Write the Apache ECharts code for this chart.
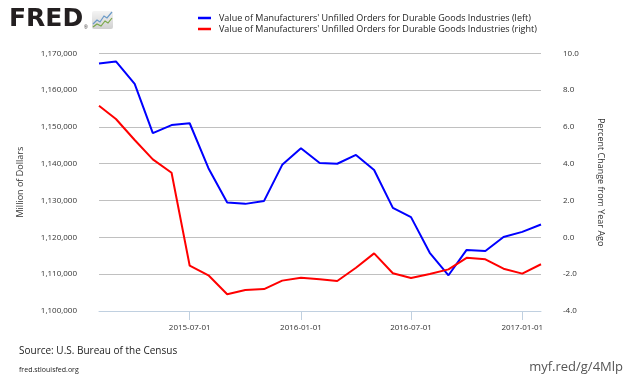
<!DOCTYPE html>
<html><head><meta charset="utf-8">
<script src="https://cdn.jsdelivr.net/npm/echarts@6/dist/echarts.min.js"></script>
<style>html,body{margin:0;padding:0;background:#fff}#c{width:630px;height:378px}</style>
</head><body><div id="c"></div>
<script>
var dates = ['2015-02-01','2015-03-01','2015-04-01','2015-05-01','2015-06-01','2015-07-01','2015-08-01','2015-09-01','2015-10-01','2015-11-01','2015-12-01','2016-01-01','2016-02-01','2016-03-01','2016-04-01','2016-05-01','2016-06-01','2016-07-01','2016-08-01','2016-09-01','2016-10-01','2016-11-01','2016-12-01','2017-01-01','2017-02-01'];
var unfilledOrders = [1167200,1167800,1161700,1148300,1150500,1151000,1138800,1129500,1129100,1129900,1139700,1144200,1140200,1140000,1142400,1138300,1128000,1125500,1115800,1109700,1116600,1116300,1120100,1121500,1123500];
var pctChange = [7.15,6.43,5.29,4.24,3.51,-1.54,-2.06,-3.09,-2.86,-2.81,-2.35,-2.19,-2.28,-2.37,-1.65,-0.87,-1.95,-2.21,-1.99,-1.74,-1.11,-1.19,-1.70,-1.97,-1.46];
var xTickLabels = ['2015-07-01','2016-01-01','2016-07-01','2017-01-01'];
var leftTicks = {min:1100000, max:1170000, interval:10000};
var rightTicks = {min:-4, max:10, interval:2};
var seriesNames = ["Value of Manufacturers' Unfilled Orders for Durable Goods Industries (left)","Value of Manufacturers' Unfilled Orders for Durable Goods Industries (right)"];

function ts(s){var p=s.split('-');return Date.UTC(+p[0],+p[1]-1,+p[2]);}
var xs = dates.map(ts);
var font = '"Open Sans", sans-serif';
var chart = echarts.init(document.getElementById('c'), null, {renderer:'canvas'});
chart.setOption({
  animation:false,
  backgroundColor:'#fff',
  textStyle:{fontFamily:font},
  grid:{left:99, right:89, top:53.3, bottom:67, containLabel:false},
  legend:{
    orient:'vertical', left:198, top:13, itemWidth:13, itemHeight:2.5, itemGap:1, padding:0,
    icon:'rect', textStyle:{fontSize:9, lineHeight:10, height:10, color:'#222', fontFamily:font, padding:[0,0,0,3]},
    data:seriesNames
  },
  xAxis:{
    type:'value', min:xs[0], max:xs[xs.length-1],
    axisLine:{onZero:false, lineStyle:{color:'#c0d0e0', width:1}},
    axisTick:{show:true, length:9, lineStyle:{color:'#c0d0e0'}, customValues:xTickLabels.map(ts)},
    axisLabel:{fontSize:8, color:'#333', margin:13, customValues:xTickLabels.map(ts),
      formatter:function(v){return new Date(v).toISOString().slice(0,10);}},
    splitLine:{show:false}
  },
  yAxis:[{
    type:'value', min:leftTicks.min, max:leftTicks.max, interval:leftTicks.interval, position:'left',
    name:'Million of Dollars', nameLocation:'middle', nameGap:74, nameRotate:90,
    nameTextStyle:{fontSize:9, color:'#333'},
    axisLine:{show:false}, axisTick:{show:false},
    axisLabel:{fontSize:8, color:'#333', margin:22, formatter:function(v){return v.toLocaleString('en-US');}},
    splitLine:{lineStyle:{color:'#c0c0c0', width:1}}
  },{
    type:'value', min:rightTicks.min, max:rightTicks.max, interval:rightTicks.interval, position:'right',
    name:'Percent Change from Year Ago', nameLocation:'middle', nameGap:55, nameRotate:-90,
    nameTextStyle:{fontSize:9, color:'#333'},
    axisLine:{show:false}, axisTick:{show:false},
    axisLabel:{fontSize:8, color:'#333', margin:22, formatter:function(v){return v.toFixed(1);}},
    splitLine:{show:false}
  }],
  series:[{
    name:seriesNames[0], type:'line', yAxisIndex:0, showSymbol:false, color:'#0000ff',
    lineStyle:{width:2, color:'#0000ff'},
    data:xs.map(function(x,i){return [x, unfilledOrders[i]];})
  },{
    name:seriesNames[1], type:'line', yAxisIndex:1, showSymbol:false, color:'#ff0000',
    lineStyle:{width:2, color:'#ff0000'},
    data:xs.map(function(x,i){return [x, pctChange[i]];})
  }],
  graphic:[
    {type:'text', left:9, top:7, style:{text:'FRED', font:'bold 25px "DejaVu Sans", sans-serif', fill:'#231f20'}},
    {type:'text', left:84, top:25, style:{text:'®', font:'5px sans-serif', fill:'#231f20'}},
    {type:'rect', left:92, top:11, shape:{width:21, height:18, r:2}, style:{fill:new echarts.graphic.LinearGradient(0,0,0,1,[{offset:0,color:'#f4f4f4'},{offset:1,color:'#d0d0d0'}])}},
    {type:'polyline', shape:{points:[[93,24],[97,20],[100,22],[104,16],[107,18],[112,12]]}, style:{stroke:'#6a9ac8', lineWidth:1.2, fill:null}},
    {type:'polyline', shape:{points:[[93,27],[97,24],[101,26],[105,21],[108,23],[112,18]]}, style:{stroke:'#7aa84a', lineWidth:1.2, fill:null}},
    {type:'text', left:19, top:346, style:{text:'Source: U.S. Bureau of the Census', font:'10px "Open Sans", sans-serif', fill:'#222'}},
    {type:'text', left:19, top:366, style:{text:'fred.stlouisfed.org', font:'7px "Open Sans", sans-serif', fill:'#222'}},
    {type:'text', right:7, top:361, style:{text:'myf.red/g/4Mlp', font:'13px "Open Sans", sans-serif', fill:'#555'}}
  ]
});
</script></body></html>
